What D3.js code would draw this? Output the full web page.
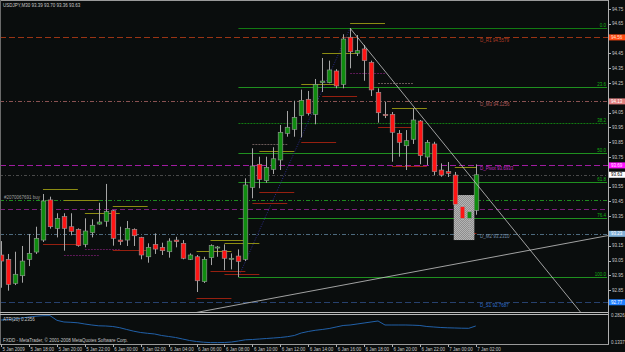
<!DOCTYPE html>
<html><head><meta charset="utf-8">
<script src="https://cdn.jsdelivr.net/npm/d3@7"></script>
<style>
body{margin:0;background:#0a0d0d;overflow:hidden}
svg{display:block}
text{font-family:"Liberation Sans",Arial,sans-serif}
</style></head>
<body><svg id="c" width="625" height="352"></svg>
<script>
// ---------------- data ----------------
const titleText = "USDJPY,M30  93.39 93.70 93.36 93.63";
const opens  = [93.088,93.059,92.897,92.948,93.059,93.108,93.189,93.460,93.268,93.347,93.279,93.261,93.160,93.239,93.297,93.316,93.387,93.189,93.189,93.261,93.207,93.076,93.160,93.140,93.110,93.189,93.167,93.059,93.076,92.908,93.070,93.135,93.117,93.059,93.081,93.059,93.545,93.701,93.590,93.667,93.730,93.910,93.937,94.029,94.140,94.038,94.252,94.252,94.331,94.241,94.559,94.451,94.480,94.390,94.187,94.038,94.038,93.910,93.826,93.870,93.993,93.750,93.838,93.662,93.651,93.628,93.414,93.336,93.390];
const highs  = [93.182,93.095,93.110,93.149,93.230,93.279,93.500,93.482,93.370,93.370,93.370,93.268,93.336,93.329,93.441,93.568,93.392,93.279,93.318,93.268,93.211,93.167,93.234,93.171,93.201,93.211,93.189,93.099,93.088,93.076,93.160,93.149,93.160,93.099,93.126,93.606,93.809,93.752,93.752,93.816,93.966,94.061,94.130,94.205,94.196,94.277,94.419,94.401,94.343,94.579,94.620,94.574,94.507,94.401,94.214,94.124,94.054,93.932,93.932,94.079,94.000,93.865,93.853,93.707,93.716,93.649,93.426,93.399,93.700];
const lows   = [92.867,92.847,92.885,92.901,93.013,93.095,93.176,93.266,93.207,93.117,93.221,93.144,93.140,93.207,93.293,93.279,93.151,93.155,93.149,93.149,93.059,93.036,93.095,93.088,93.070,93.140,93.059,93.054,92.838,92.899,93.020,93.076,92.986,92.991,92.939,93.047,93.471,93.539,93.576,93.635,93.662,93.887,93.887,93.883,94.030,93.971,94.189,94.248,94.214,94.214,94.349,94.432,94.265,94.162,93.982,94.013,93.718,93.752,93.662,93.838,93.701,93.696,93.628,93.617,93.615,93.414,93.318,93.201,93.360];
const closes = [93.047,92.890,92.958,93.047,93.099,93.201,93.453,93.279,93.336,93.268,93.248,93.151,93.250,93.289,93.311,93.381,93.201,93.178,93.268,93.218,93.088,93.140,93.128,93.117,93.182,93.178,93.066,93.088,92.914,93.059,93.151,93.142,93.066,93.066,93.045,93.561,93.689,93.599,93.680,93.738,93.917,93.951,94.018,94.133,94.045,94.241,94.263,94.338,94.230,94.547,94.461,94.468,94.401,94.203,94.049,94.029,93.917,93.849,93.860,94.000,93.759,93.849,93.651,93.628,93.640,93.430,93.336,93.380,93.630];

const atrValues = [0.2578,0.2605,0.2633,0.2688,0.2743,0.2787,0.2815,0.2820,0.2560,0.2468,0.2451,0.2423,0.2357,0.2302,0.2258,0.2247,0.2219,0.2153,0.2054,0.1960,0.1888,0.1844,0.1806,0.1723,0.1668,0.1613,0.1530,0.1447,0.1392,0.1353,0.1331,0.1331,0.1337,0.1364,0.1420,0.1486,0.1502,0.1530,0.1557,0.1585,0.1613,0.1657,0.1723,0.1861,0.1944,0.2010,0.2054,0.2109,0.2192,0.2275,0.2302,0.2357,0.2412,0.2468,0.2523,0.2302,0.2302,0.2302,0.2302,0.2291,0.2275,0.2219,0.2192,0.2164,0.2147,0.2137,0.2126,0.2120,0.2247];
const atrLabel = "ATR(20) 0.2356";
const atrScaleLabels = [0.2826, 0.1337];

const timeLabels = ["5 Jan 2009","5 Jan 18:00","5 Jan 20:00","5 Jan 22:00","6 Jan 00:00","6 Jan 02:00","6 Jan 04:00","6 Jan 06:00","6 Jan 08:00","6 Jan 10:00","6 Jan 12:00","6 Jan 14:00","6 Jan 16:00","6 Jan 18:00","6 Jan 20:00","6 Jan 22:00","7 Jan 00:00","7 Jan 02:00"];
const timeLabelBars = [0,4,8,12,16,20,24,28,32,36,40,44,48,52,56,60,64,68];
const priceTicks = [94.75,94.65,94.55,94.45,94.35,94.25,94.15,94.05,93.95,93.85,93.75,93.65,93.55,93.45,93.35,93.25,93.15,93.05,92.95,92.85,92.75];

const pivotNames  = ["D_R1","D_M3","D_Pivot","D_M2","D_S1"];
const pivotValues = [94.5579,94.1256,93.6933,93.2310,92.7687];
const currentPrice = 93.63;
const orderLevel = 93.460;
const orderText = "#2070067691 buy";
const extraLevel = 93.402;

const fibLevels = [0.0,23.6,38.2,50.0,61.8,76.4,100.0];
const fibHigh = 94.62, fibLow = 92.939, fibLowBar = 34, fibHighBar = 50;

const segStart = [6,9,12,16,28,30,32,36,37,43,46,50,54,56,65];
const segEnd   = [11,14,17,21,33,35,37,41,42,48,51,55,59,61,68.1];
const segUpper = [93.532,93.457,93.370,93.417,93.117,93.187,93.167,93.840,93.791,94.241,94.451,94.653,94.252,94.079,93.680];
const segLower = [93.160,93.088,93.128,93.122,92.795,92.978,92.959,93.437,93.512,93.849,94.161,94.320,93.951,93.691,93.239];
const segUpperKind = ["o","o","o","o","o","o","o","g","o","o","o","o","g","o","o"];
const segLowerKind = ["r","p","p","r","r","r","r","r","r","r","r","p","r","r","r"];

const trendDownBars = [50,60], trendDownPrices = [94.62,94.039];
const trendUpBars = [28,80], trendUpPrices = [92.70,93.158];
const boxBars = [64.85,67.8], boxPrices = [93.493,93.189];

const copyright = "FXDD - MetaTrader, \u00a9 2001-2008 MetaQuotes Software Corp.";

// ---------------- layout ----------------
const svg = d3.select("#c");
const plotRight = 608, mainTop = 1, mainBottom = 312.5;
const x = d3.scaleLinear().domain([0,87]).range([1.1, 1.1 + 87*6.98]);
const y = d3.scaleLinear().domain([92.703,94.797]).range([312,2]);
const ya = d3.scaleLinear().domain([0.1337,0.2826]).range([342.5,315.5]);
const FS = 4.5;

svg.append("rect").attr("width",625).attr("height",352).attr("fill","#0a0d0d");

const defs = svg.append("defs");
defs.append("clipPath").attr("id","mainclip").append("rect")
  .attr("x",0).attr("y",mainTop).attr("width",plotRight).attr("height",mainBottom-mainTop);
const pat = defs.append("pattern").attr("id","hatch").attr("width",2).attr("height",2).attr("patternUnits","userSpaceOnUse");
pat.append("rect").attr("width",2).attr("height",2).attr("fill","#8e8e8e");
pat.append("rect").attr("width",1).attr("height",1).attr("fill","#b4b4b4");
pat.append("rect").attr("x",1).attr("y",1).attr("width",1).attr("height",1).attr("fill","#b4b4b4");

const main = svg.append("g").attr("clip-path","url(#mainclip)");

// full width horizontal lines
const pivotLineStyles = [
  {c:"#9a3414",d:"6,3"},{c:"#8a5252",d:"4,2,1,2"},{c:"#a01ca0",d:"6,3"},{c:"#4d6a7e",d:"4,2,1,2"},{c:"#27416e",d:"6,3"}];
const hLines = pivotValues.map((v,i)=>({v, c:pivotLineStyles[i].c, d:pivotLineStyles[i].d}))
  .concat([{v:currentPrice,c:"#4a4a4a",d:"3,2,1,2"},{v:orderLevel,c:"#1d8a1d",d:"4,2,1,2"},{v:extraLevel,c:"#7a1f7a",d:"5,3"}]);
main.selectAll("line.h").data(hLines).join("line")
  .attr("x1",0).attr("x2",plotRight).attr("y1",d=>Math.round(y(d.v))+0.5).attr("y2",d=>Math.round(y(d.v))+0.5)
  .attr("stroke",d=>d.c).attr("stroke-width",1).attr("stroke-dasharray",d=>d.d);

// fib lines
const fibPrice = L => fibHigh - (fibHigh-fibLow)*L/100;
main.selectAll("line.fib").data(fibLevels).join("line")
  .attr("x1",x(fibLowBar)).attr("x2",plotRight-1)
  .attr("y1",d=>Math.round(y(fibPrice(d)))+0.5).attr("y2",d=>Math.round(y(fibPrice(d)))+0.5)
  .attr("stroke",d=>(d===38.2||d===0)?"#127a12":"#1f901f").attr("stroke-width",1)
  .attr("stroke-dasharray",d=>d===38.2?"2,1":null);
main.selectAll("text.fib").data(fibLevels).join("text")
  .attr("x",plotRight-2).attr("y",d=>y(fibPrice(d))-1).attr("text-anchor","end")
  .attr("font-size",FS).attr("fill","#12b012").text(d=>d.toFixed(1));
// fib base dotted line
main.append("line").attr("x1",x(fibLowBar)).attr("y1",y(fibLow)).attr("x2",x(fibHighBar)).attr("y2",y(fibHigh))
  .attr("stroke","#2c2c8a").attr("stroke-width",1).attr("stroke-dasharray","1,1.5");

// short level segments
const kindColor = {o:"#8c8c12", r:"#962010", p:"#5e1a58", g:"#6a5a58"};
const segs = [];
segStart.forEach((s,i)=>{
  segs.push({s, e:segEnd[i], v:segUpper[i], k:segUpperKind[i]});
  segs.push({s, e:segEnd[i], v:segLower[i], k:segLowerKind[i]});
});
main.selectAll("line.seg").data(segs).join("line")
  .attr("x1",d=>x(d.s)).attr("x2",d=>x(d.e))
  .attr("y1",d=>Math.round(y(d.v))+0.5).attr("y2",d=>Math.round(y(d.v))+0.5)
  .attr("stroke",d=>kindColor[d.k]).attr("stroke-width",1)
  .attr("stroke-dasharray",d=>(d.k==="p"||d.k==="g")?"2,1":null);

// hatched box
main.append("rect").attr("x",x(boxBars[0])).attr("y",y(boxPrices[0]))
  .attr("width",x(boxBars[1])-x(boxBars[0])).attr("height",y(boxPrices[1])-y(boxPrices[0]))
  .attr("fill","url(#hatch)");

// candles
const bars = opens.map((o,i)=>({i,o,h:highs[i],l:lows[i],c:closes[i]}));
const cg = main.append("g");
cg.selectAll("line.wick").data(bars).join("line")
  .attr("x1",d=>Math.round(x(d.i))+0.5).attr("x2",d=>Math.round(x(d.i))+0.5)
  .attr("y1",d=>y(d.h)).attr("y2",d=>y(d.l)).attr("stroke","#a6a6a6").attr("stroke-width",1);
cg.selectAll("rect.body").data(bars).join("rect")
  .attr("x",d=>Math.round(x(d.i))-1.8).attr("width",4.6)
  .attr("y",d=>y(Math.max(d.o,d.c)))
  .attr("height",d=>Math.max(1,y(Math.min(d.o,d.c))-y(Math.max(d.o,d.c))))
  .attr("fill",d=>d.c>=d.o?"#0f8c0f":"#ff1414")
  .attr("stroke","#9a9a9a").attr("stroke-width",0.6);

// trendlines (rays)
function ray(bs,ps,b0,b1){
  const k=(ps[1]-ps[0])/(bs[1]-bs[0]);
  return {x1:x(b0),y1:y(ps[0]+k*(b0-bs[0])),x2:x(b1),y2:y(ps[0]+k*(b1-bs[0]))};
}
[ray(trendDownBars,trendDownPrices,50,90), ray(trendUpBars,trendUpPrices,20,90)].forEach(r=>{
  main.append("line").attr("x1",r.x1).attr("y1",r.y1).attr("x2",r.x2).attr("y2",r.y2)
    .attr("stroke","#c8c8c8").attr("stroke-width",0.8);
});

// pivot text labels
const pivotTextColors = ["#b03c26","#b05a5a","#c82ac8","#7890aa","#2f6fd0"];
main.selectAll("text.piv").data(pivotValues).join("text")
  .attr("x",480).attr("y",d=>y(d)+4.6).attr("font-size",FS)
  .attr("fill",(d,i)=>pivotTextColors[i]).text((d,i)=>pivotNames[i]+" "+d.toFixed(4));
main.append("text").attr("x",4).attr("y",y(orderLevel)-1.2).attr("font-size",FS)
  .attr("fill","#a0a0a0").text(orderText);

// title
svg.append("text").attr("x",3).attr("y",6.5).attr("font-size",FS).attr("fill","#c8c8c8").text(titleText);

// frames
svg.append("line").attr("x1",0).attr("x2",plotRight).attr("y1",0.5).attr("y2",0.5).attr("stroke","#9a9a9a");
svg.append("line").attr("x1",0.5).attr("x2",0.5).attr("y1",0).attr("y2",344).attr("stroke","#6a6a6a");
svg.append("line").attr("x1",plotRight+0.5).attr("x2",plotRight+0.5).attr("y1",0).attr("y2",344.5).attr("stroke","#b0b0b0");
[312.5,314.5].forEach(v=>svg.append("line").attr("x1",0).attr("x2",plotRight).attr("y1",v).attr("y2",v).attr("stroke","#b8b8b8"));
svg.append("line").attr("x1",0).attr("x2",plotRight+1).attr("y1",344.5).attr("y2",344.5).attr("stroke","#9a9a9a");

// price axis ticks & labels
const boxVals = pivotValues.concat([currentPrice]);
const visTicks = priceTicks.filter(t=>boxVals.every(b=>Math.abs(y(t)-y(b))>5.5));
svg.selectAll("line.pt").data(visTicks).join("line")
  .attr("x1",plotRight).attr("x2",plotRight+3).attr("y1",d=>Math.round(y(d))+0.5).attr("y2",d=>Math.round(y(d))+0.5)
  .attr("stroke","#b0b0b0");
svg.selectAll("text.pt").data(visTicks).join("text")
  .attr("x",plotRight+4).attr("y",d=>y(d)+1.6).attr("font-size",FS).attr("fill","#c8c8c8").text(d=>d.toFixed(2));

// price boxes
const boxes = [
  {v:pivotValues[0],bg:"#ff4a12",fg:"#ffe0d0"},
  {v:pivotValues[1],bg:"#e08080",fg:"#ffffff"},
  {v:pivotValues[2],bg:"#ff10ff",fg:"#ffe0ff"},
  {v:currentPrice,bg:"#ffffff",fg:"#000000"},
  {v:pivotValues[3],bg:"#7fb0d8",fg:"#ffffff"},
  {v:pivotValues[4],bg:"#2080ff",fg:"#ffffff"}];
boxes.forEach(b=>{
  const yy=y(b.v);
  svg.append("rect").attr("x",plotRight+1).attr("y",yy-3).attr("width",16).attr("height",6).attr("fill",b.bg);
  svg.append("text").attr("x",plotRight+3).attr("y",yy+1.6).attr("font-size",FS).attr("fill",b.fg).text(b.v.toFixed(2));
});

// ATR panel
const atrLine = d3.line().x((d,i)=>x(i)).y(d=>ya(d));
svg.append("path").datum(atrValues).attr("d",atrLine).attr("fill","none").attr("stroke","#2160a8").attr("stroke-width",1);
svg.append("text").attr("x",3).attr("y",320.5).attr("font-size",FS).attr("fill","#c8c8c8").text(atrLabel);
svg.append("text").attr("x",3).attr("y",342).attr("font-size",FS).attr("fill","#c8c8c8").text(copyright);
svg.selectAll("text.al").data(atrScaleLabels).join("text")
  .attr("x",plotRight+3).attr("y",d=>ya(d)+1.6).attr("font-size",FS).attr("fill","#c8c8c8").text(d=>d.toFixed(4));

// time axis
svg.selectAll("line.tt").data(timeLabelBars).join("line")
  .attr("x1",d=>Math.round(x(d))+0.5).attr("x2",d=>Math.round(x(d))+0.5).attr("y1",344.5).attr("y2",347)
  .attr("stroke","#b0b0b0");
svg.selectAll("text.tt").data(timeLabelBars).join("text")
  .attr("x",d=>x(d)+1.5).attr("y",350.5).attr("font-size",FS).attr("fill","#c8c8c8").text((d,i)=>timeLabels[i]);
</script></body></html>
